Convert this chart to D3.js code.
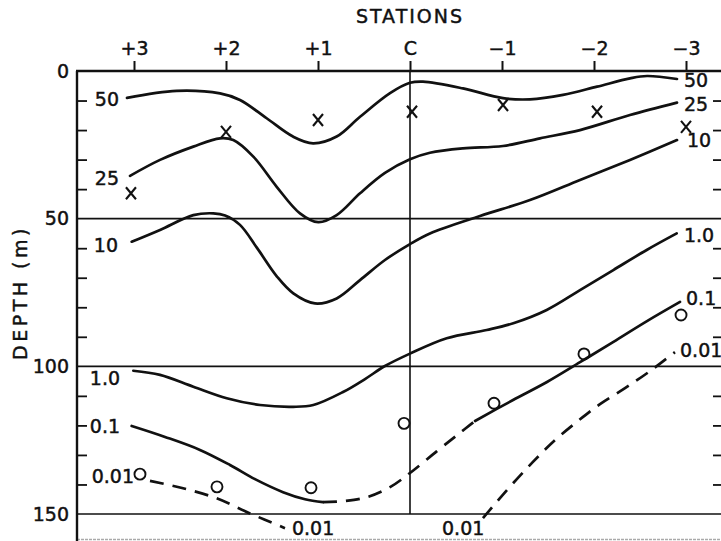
<!DOCTYPE html>
<html>
<head>
<meta charset="utf-8">
<script src="https://cdn.jsdelivr.net/npm/d3@7"></script>
<style>
  html, body { margin: 0; padding: 0; background: #fff; }
  svg { display: block; font-family: "DejaVu Sans", sans-serif; }
</style>
</head>
<body>
<svg id="chart" width="721" height="541"></svg>
<script>
// stations along the section (+3 ... C ... -3) and their labels
const stations = [3, 2, 1, 0, -1, -2, -3];
const stationLabels = ["+3", "+2", "+1", "C", "\u22121", "\u22122", "\u22123"];
const depthTicks = [0, 50, 100, 150];
const minorDepthTicks = [10, 20, 30, 40, 60, 70, 80, 90, 110, 120, 130, 140];

// isolines, [station, depth m]
const iso50 = [[3.076, 9.1], [2.536, 6.7], [2.065, 7.6], [1.848, 9.8], [1.558, 16.0], [1.272, 22.2],
  [1.054, 24.5], [0.797, 22.2], [0.543, 15.5], [0.217, 7.5], [0, 4.0], [-0.141, 3.6], [-0.576, 5.9],
  [-1.011, 9.2], [-1.304, 9.6], [-1.663, 8.1], [-2.033, 5.3], [-2.391, 2.5], [-2.576, 1.7], [-2.902, 2.7]];
const iso25 = [[3.043, 35.5], [2.717, 30.1], [2.355, 25.6], [2.065, 22.8], [1.921, 23.4], [1.703, 29.0],
  [1.449, 39.2], [1.196, 48.2], [0.997, 51.2], [0.797, 48.8], [0.543, 41.4], [0.272, 34.5], [0, 29.9],
  [-0.217, 27.7], [-0.576, 26.2], [-1.011, 25.4], [-1.413, 22.8], [-1.848, 20.0], [-2.391, 14.9], [-2.902, 10.7]];
const iso10 = [[3.025, 57.8], [2.717, 53.8], [2.355, 48.8], [2.138, 48.2], [2.010, 48.9], [1.848, 52.1],
  [1.663, 59.9], [1.446, 69.6], [1.268, 75.3], [1.033, 78.7], [0.797, 77.0], [0.543, 70.8], [0.272, 64.0],
  [0, 58.6], [-0.217, 55.0], [-0.761, 49.1], [-1.304, 43.7], [-1.848, 36.9], [-2.391, 30.1], [-2.902, 23.4]];
const iso1 = [[3.008, 101.5], [2.717, 102.9], [2.355, 106.9], [1.992, 110.8], [1.630, 113.1], [1.268, 113.7],
  [1.051, 113.1], [0.728, 108.7], [0.489, 104.3], [0.272, 99.9], [0, 95.7], [-0.399, 90.5], [-0.834, 87.7],
  [-1.123, 85.4], [-1.486, 80.9], [-1.848, 74.2], [-2.210, 67.4], [-2.573, 60.6], [-2.899, 55.0]];
const iso01Left = [[3.025, 120.2], [2.663, 123.9], [2.283, 128.3], [1.957, 133.4], [1.685, 138.2],
  [1.380, 142.6], [1.141, 145.0], [0.946, 146.0]];
const iso01Gap = [[0.946, 146.0], [0.707, 145.6], [0.467, 144.3], [0.217, 140.9], [0, 136.1],
  [-0.293, 128.7], [-0.511, 123.3], [-0.707, 118.5]];
const iso01Right = [[-0.707, 118.5], [-1.120, 111.4], [-1.489, 105.3], [-1.848, 98.6], [-2.207, 91.8],
  [-2.576, 84.7], [-2.935, 78.2]];
const iso001Left = [[2.826, 138.8], [2.478, 141.2], [2.109, 144.6], [1.739, 149.8], [1.359, 154.8]];
const iso001Right = [[-0.793, 151.4], [-1.054, 141.9], [-1.326, 132.7], [-1.576, 125.0], [-1.826, 118.5],
  [-2.065, 112.8], [-2.337, 107.4], [-2.609, 101.6], [-2.880, 95.2]];

// observed points: x marks and circles
const crossStations = [3.033, 2.0, 1.0, -0.022, -1.011, -2.033, -3.0];
const crossDepths = [41.4, 20.6, 16.6, 13.8, 11.5, 13.8, 18.9];
const circleStations = [2.935, 2.098, 1.076, 0.065, -0.913, -1.891, -2.946];
const circleDepths = [136.5, 140.8, 141.1, 119.3, 112.5, 95.8, 82.6];

// isoline labels [text, station, depth, anchor]
const isoLabels = [
  ["50", 3.163, 9.5, "end"], ["25", 3.163, 36.2, "end"], ["10", 3.174, 58.9, "end"],
  ["1.0", 3.152, 104.0, "end"], ["0.1", 3.152, 120.2, "end"], ["0.01", 3.0, 137.2, "end"],
  ["50", -2.978, 3.0, "start"], ["25", -2.978, 11.2, "start"], ["10", -3.011, 23.4, "start"],
  ["1.0", -2.978, 55.5, "start"], ["0.1", -3.0, 76.9, "start"], ["0.01", -2.935, 94.5, "start"],
  ["0.01", 1.283, 154.9, "start"], ["0.01", -0.348, 154.9, "start"]
];

const frame = { left: 77, top: 71, right: 721, bottom: 541 };

const svg = d3.select("#chart");

const x = d3.scaleLinear().domain([3, -3]).range([134, 686]);
const y = d3.scaleLinear().domain([0, 150]).range([71, 514]);

const ink = "#111";

// text gets a hairline stroke so it reads like the drawn lettering
function lettering(sel, size) {
  sel.attr("font-family", "DejaVu Sans, sans-serif")
    .attr("font-size", size)
    .attr("fill", ink)
    .attr("stroke", ink)
    .attr("stroke-width", 0.45);
}

// reference lines at 50/100/150 m and at station C
svg.append("g")
  .selectAll("line")
  .data([50, 100, 150])
  .join("line")
  .attr("x1", frame.left).attr("x2", frame.right)
  .attr("y1", d => y(d)).attr("y2", d => y(d))
  .attr("stroke", ink).attr("stroke-width", 1.6);

svg.append("line")
  .attr("x1", x(0)).attr("x2", x(0))
  .attr("y1", y(0)).attr("y2", y(150))
  .attr("stroke", ink).attr("stroke-width", 1.6);

// faint bottom edge
svg.append("line")
  .attr("x1", frame.left).attr("x2", frame.right)
  .attr("y1", 539.5).attr("y2", 539.5)
  .attr("stroke", "#aaa").attr("stroke-width", 1.5)
  .attr("stroke-dasharray", "3,1");

// top axis (stations)
const topAxis = svg.append("g")
  .attr("transform", `translate(0,${frame.top})`)
  .call(d3.axisTop(x)
    .tickValues(stations)
    .tickFormat((d, i) => stationLabels[i])
    .tickSize(10)
    .tickSizeOuter(0)
    .tickPadding(6));
topAxis.select(".domain").remove();
topAxis.selectAll("line").attr("stroke", ink).attr("stroke-width", 2);
topAxis.selectAll("text").call(lettering, 19);

// left axis (depth) with labels, and inward minor ticks
const leftAxis = svg.append("g")
  .attr("transform", `translate(${frame.left},0)`)
  .call(d3.axisLeft(y).tickValues(depthTicks).tickSize(0).tickPadding(8));
leftAxis.select(".domain").remove();
leftAxis.selectAll("text").call(lettering, 19);

const leftMinor = svg.append("g")
  .attr("transform", `translate(${frame.left},0)`)
  .call(d3.axisRight(y).tickValues(minorDepthTicks).tickSize(10).tickFormat(""));
leftMinor.select(".domain").remove();
leftMinor.selectAll("line").attr("stroke", ink).attr("stroke-width", 1.8);

const rightMinor = svg.append("g")
  .attr("transform", `translate(${frame.right},0)`)
  .call(d3.axisLeft(y).tickValues(minorDepthTicks).tickSize(8).tickFormat(""));
rightMinor.select(".domain").remove();
rightMinor.selectAll("line").attr("stroke", ink).attr("stroke-width", 1.8);

// frame lines: top and left
svg.append("line")
  .attr("x1", frame.left - 1).attr("x2", frame.right)
  .attr("y1", frame.top).attr("y2", frame.top)
  .attr("stroke", ink).attr("stroke-width", 2.4);
svg.append("line")
  .attr("x1", frame.left).attr("x2", frame.left)
  .attr("y1", frame.top).attr("y2", frame.bottom)
  .attr("stroke", ink).attr("stroke-width", 2.4);

// titles
svg.append("text")
  .attr("x", x(0))
  .attr("y", 23)
  .attr("text-anchor", "middle")
  .attr("letter-spacing", 2)
  .call(lettering, 19)
  .text("STATIONS");

svg.append("text")
  .attr("transform", `translate(27,${y(75)}) rotate(-90)`)
  .attr("text-anchor", "middle")
  .attr("letter-spacing", 3.5)
  .call(lettering, 19)
  .text("DEPTH (m)");

// isolines
const line = d3.line()
  .x(d => x(d[0]))
  .y(d => y(d[1]))
  .curve(d3.curveCatmullRom.alpha(0.5));

const solid = [iso50, iso25, iso10, iso1, iso01Left, iso01Right];
const dashed = [iso01Gap, iso001Left, iso001Right];

svg.append("g")
  .selectAll("path")
  .data(solid)
  .join("path")
  .attr("d", line)
  .attr("fill", "none")
  .attr("stroke", ink)
  .attr("stroke-width", 2.7)
  .attr("stroke-linecap", "round");

svg.append("g")
  .selectAll("path")
  .data(dashed)
  .join("path")
  .attr("d", line)
  .attr("fill", "none")
  .attr("stroke", ink)
  .attr("stroke-width", 2.7)
  .attr("stroke-dasharray", "14,9");

// x marks
const crosses = crossStations.map((s, i) => [s, crossDepths[i]]);
svg.append("g")
  .selectAll("path")
  .data(crosses)
  .join("path")
  .attr("d", d => {
    const cx = x(d[0]), cy = y(d[1]);
    return `M${cx - 5},${cy - 6}L${cx + 5},${cy + 6}M${cx + 5},${cy - 6}L${cx - 5},${cy + 6}`;
  })
  .attr("stroke", ink)
  .attr("stroke-width", 2.1)
  .attr("fill", "none");

// circles
const circles = circleStations.map((s, i) => [s, circleDepths[i]]);
svg.append("g")
  .selectAll("circle")
  .data(circles)
  .join("circle")
  .attr("cx", d => x(d[0]))
  .attr("cy", d => y(d[1]))
  .attr("r", 5.5)
  .attr("fill", "none")
  .attr("stroke", ink)
  .attr("stroke-width", 1.9);

// isoline labels
svg.append("g")
  .selectAll("text")
  .data(isoLabels)
  .join("text")
  .attr("x", d => x(d[1]))
  .attr("y", d => y(d[2]))
  .attr("dy", "0.36em")
  .attr("text-anchor", d => d[3])
  .call(lettering, 19)
  .text(d => d[0]);
</script>
</body>
</html>
